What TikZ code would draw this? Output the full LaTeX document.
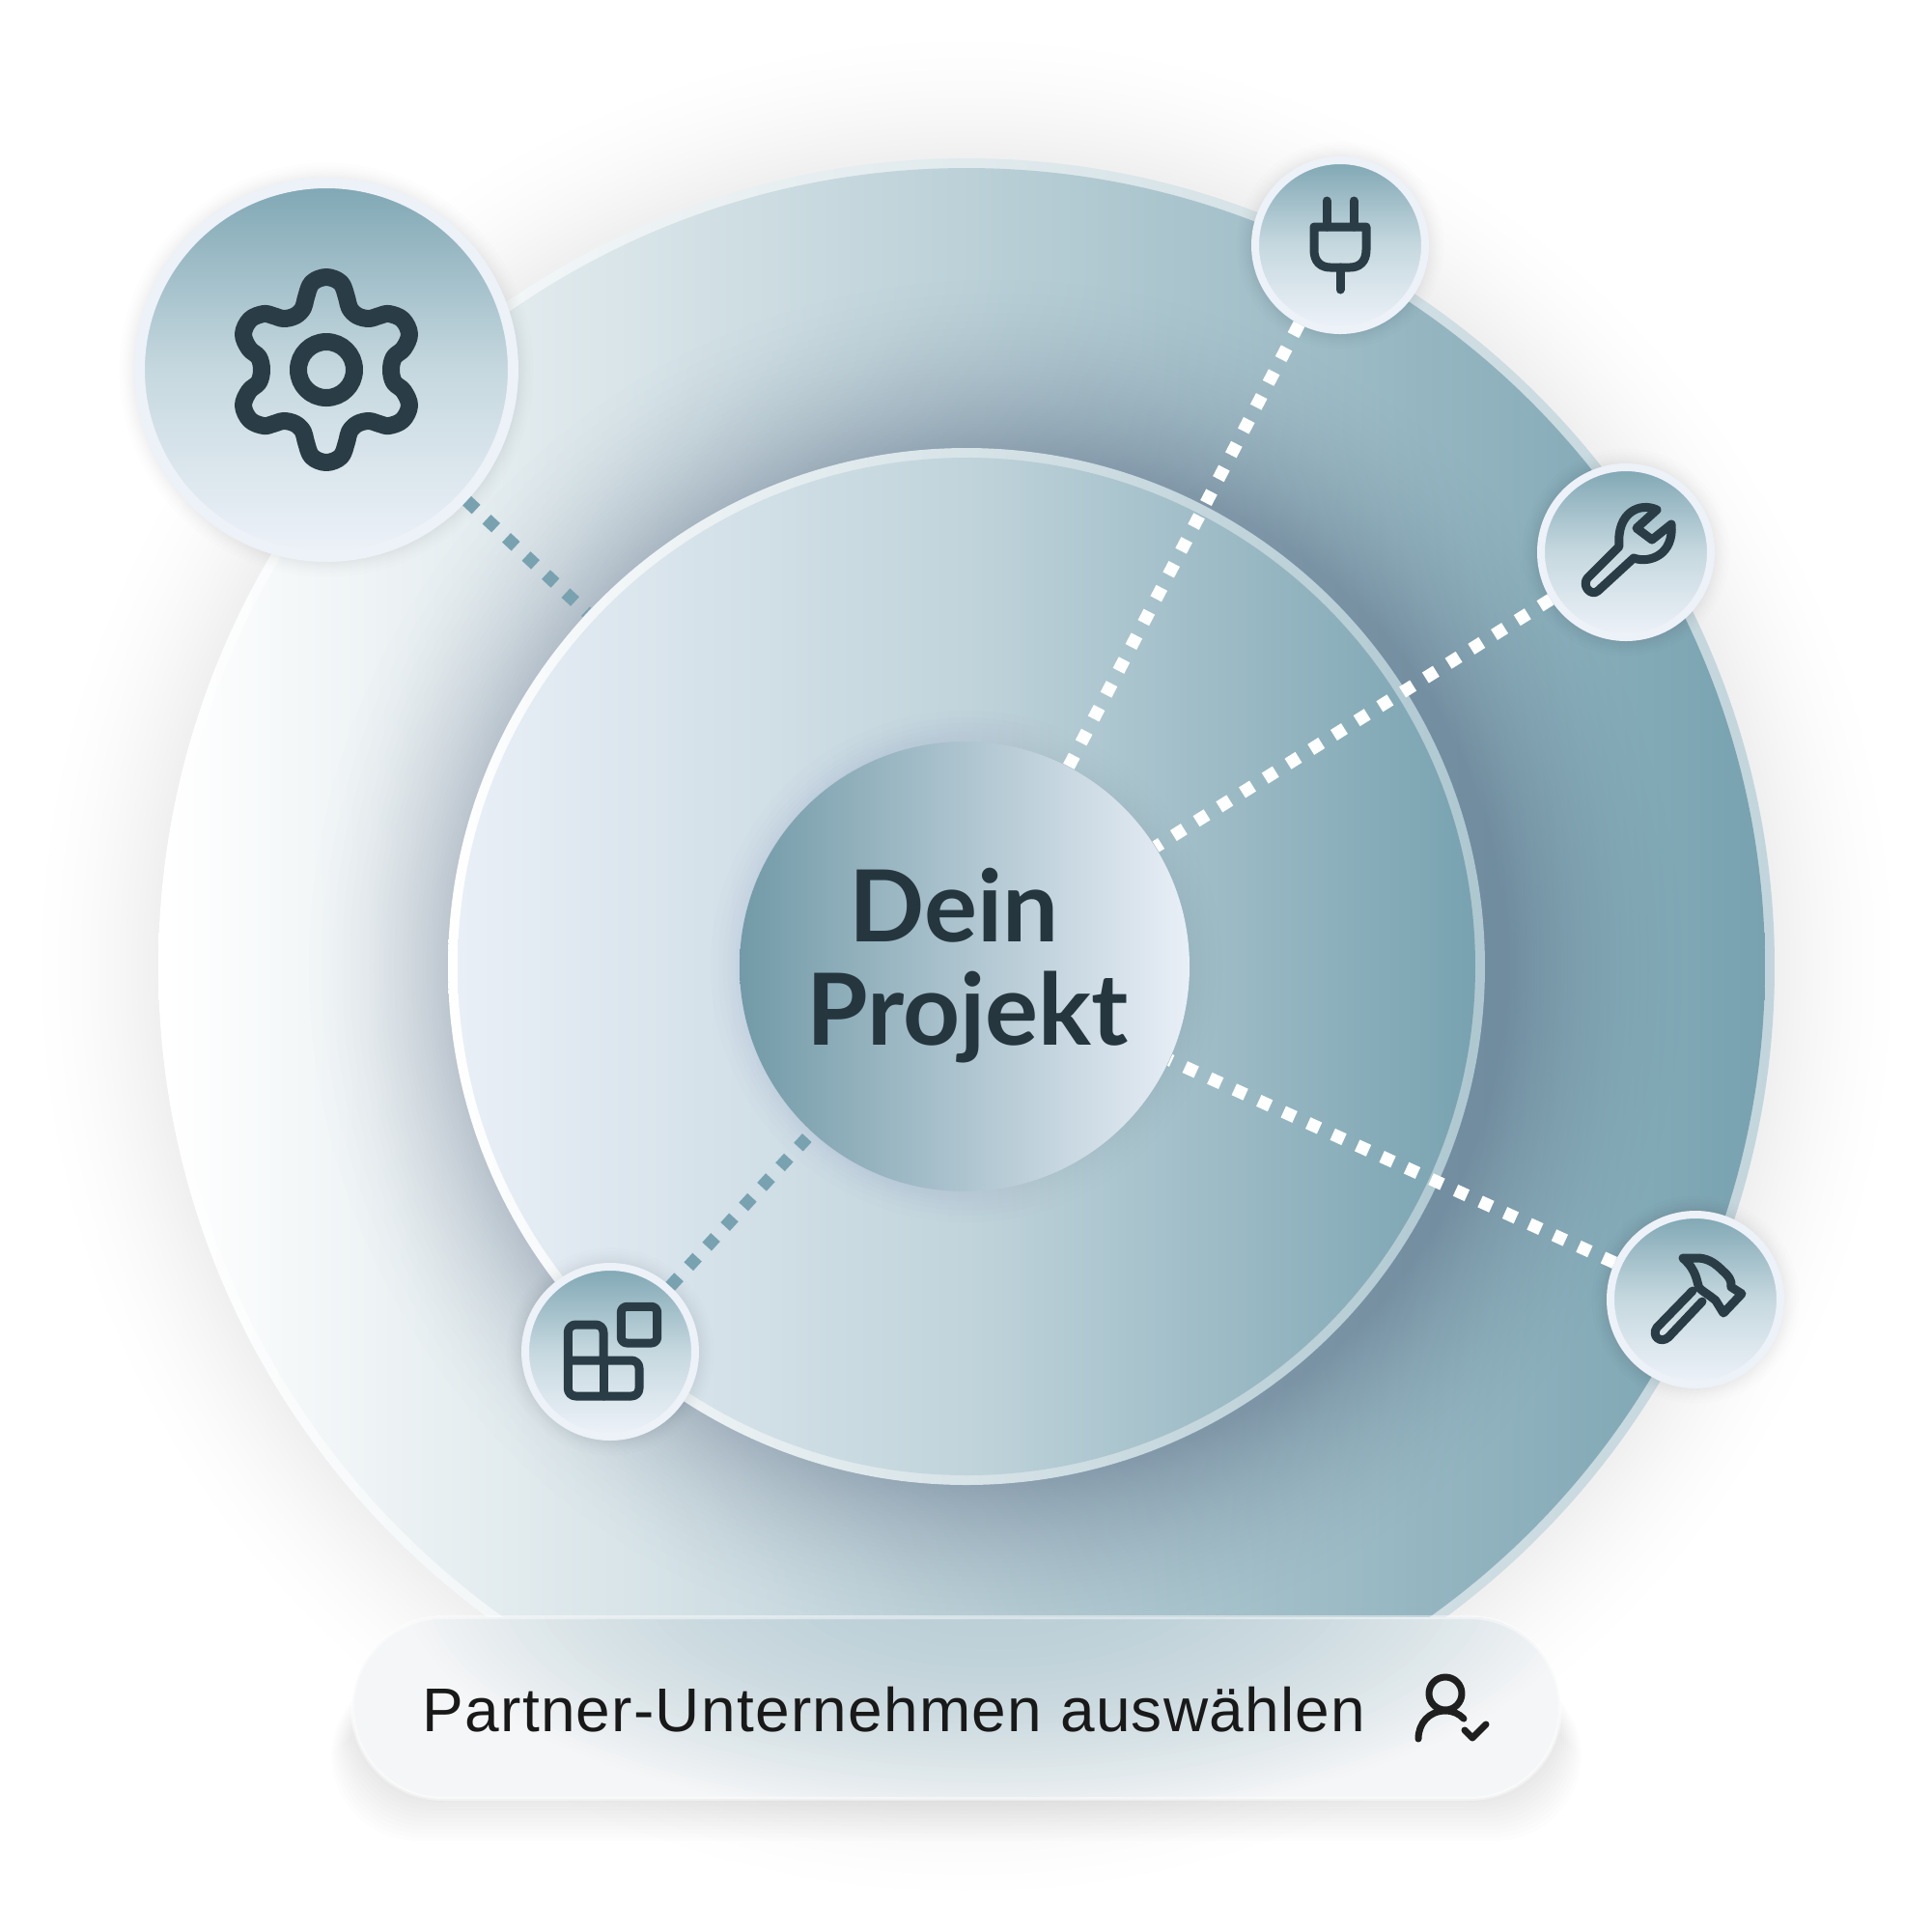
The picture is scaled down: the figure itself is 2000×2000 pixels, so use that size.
\documentclass[tikz,border=0pt]{standalone}
\usepackage{fontspec}
\setmainfont{Liberation Sans}
\newfontfamily\titlefont{Lato}

\definecolor{ink}{HTML}{2A3C45}
\definecolor{titleink}{HTML}{26363F}
\definecolor{deep}{HTML}{78A2B0}
\definecolor{pale}{HTML}{E9EFF7}
\definecolor{midtone}{HTML}{C1D4DB}
\definecolor{hubtop}{HTML}{7FA7B4}
\definecolor{hubmid}{HTML}{C6D8DF}
\definecolor{hubbot}{HTML}{EEF2F9}
\definecolor{hubrim}{HTML}{EDF1F8}
\definecolor{dusk}{HTML}{3C4C6A}
\definecolor{pillbase}{HTML}{F5F6F7}

\tikzset{
  disc/.style={circle,inner sep=0pt,shading=axis,minimum size=#1},
  hub/.style={circle,inner sep=0pt,minimum size=17.6mm,line width=.8mm,draw=hubrim,
    top color=hubtop,bottom color=hubbot,middle color=hubmid},
  linkwhite/.style={draw=white,line width=1.3mm,dash pattern=on 1.3mm off 1.5mm},
  linkteal/.style={linkwhite,draw=deep},
  icon/.style={draw=ink,line width=.9mm,line cap=round,line join=round},
  gearicon/.pic={
    \draw[icon,line width=1.8mm] plot[smooth cycle,tension=.6] coordinates {
      (0,-96) (15,-90) (21,-75) (24,-64) (32,-56) (44,-53) (55,-56) (65,-58) (79,-52) (86,-37) (80,-22) (70,-13) (67,0)
      (70,13) (80,22) (86,37) (79,52) (65,58) (55,56) (44,53) (32,56) (24,64) (21,75) (15,90) (0,96)
      (-15,90) (-21,75) (-24,64) (-32,56) (-44,53) (-55,56) (-65,58) (-79,52) (-86,37) (-80,22) (-70,13) (-67,0)
      (-70,-13) (-80,-22) (-86,-37) (-79,-52) (-65,-58) (-55,-56) (-44,-53) (-32,-56) (-24,-64) (-21,-75) (-15,-90)};
    \draw[icon,line width=1.8mm] (0,0) circle [radius=29];
  },
  plugicon/.pic={
    \draw[icon] (-27,-19) -- (27,-19) -- (27,5) .. controls (27,17) and (20,23) .. (10,23) -- (-10,23) .. controls (-20,23) and (-27,17) .. (-27,5) -- cycle;
    \draw[icon] (-14,-19) -- (-14,-46);
    \draw[icon] (14,-19) -- (14,-46);
    \draw[icon] (0,23) -- (0,46);
  },
  wrenchicon/.pic={
    \draw[icon] (32,-44) .. controls (15,-52) and (-10,-42) .. (-7,-6) -- (-40,27) .. controls (-46,35) and (-36,46) .. (-29,40) -- (8,6) .. controls (25,12) and (50,2) .. (47,-29) -- (27,-13) -- (11,-25) -- cycle;
  },
  hammericon/.pic={
    \draw[icon] (-3,-9) -- (-40,29) .. controls (-46,38) and (-36,46) .. (-28,39) -- (7,2);
    \draw[icon] (-13,-43) -- (4,-43) .. controls (15,-42) and (22,-36) .. (28,-30) .. controls (34,-25) and (38,-20) .. (37,-13) -- (48,-6) -- (29,14) -- (21,1) .. controls (14,-5) and (8,-8) .. (4,-12) .. controls (1,-18) and (2,-30) .. (-13,-43);
  },
  blocksicon/.pic={
    \draw[icon,rounded corners=.6mm] (11.3,-46.7) rectangle (48.7,-9);
    \draw[icon,rounded corners=.8mm] (-7,9) -- (-7,-28) -- (-43.7,-28) -- (-43.7,46) -- (30,46) -- (30,9) -- (-43.7,9);
    \draw[icon] (-7,9) -- (-7,46);
  },
}

\begin{document}
\begin{tikzpicture}[x=0.1mm,y=-0.1mm]
    \useasboundingbox (0,0) rectangle (2000,2000);
    \fill[white] (0,0) rectangle (2000,2000);
    % Soft shadow of the big disc
    \foreach \k in {1,...,16} {
        \pgfmathsetmacro{\shadelevel}{\k*0.4}
        \fill[black!\shadelevel!white] (1001,1001) circle [radius={837+160*(1-sqrt(\k/16))}];
    }
    % Big disc, cut where the pill begins
    \begin{scope}
        \clip (0,0) rectangle (2000,1675);
        \node[disc=167.4mm,left color=white,right color=deep!45!white] (ringedge) at (1001,1001) {};
        \node[disc=165.4mm,left color=white,right color=deep] (ringout) at (1001,1001) {};
        % Shadow of the middle disc, each step tinted from the gradient below it
        \foreach \k in {1,...,40} {
            \pgfmathsetmacro{\stepr}{530+215*(1-sqrt(\k/40))}
            \pgfmathsetmacro{\stepl}{(1031-\stepr-174)/16.54}
            \pgfmathsetmacro{\stepm}{(1031+\stepr-174)/16.54}
            \pgfmathsetmacro{\stepa}{\k*0.925}
            \colorlet{stepleft}{deep!\stepl!white}
            \colorlet{stepright}{deep!\stepm!white}
            \shade[left color=dusk!\stepa!stepleft,right color=dusk!\stepa!stepright] (1031,1001) circle [radius=\stepr];
        }
    \end{scope}
    % Middle disc
    \node[disc=107.4mm,left color=white,right color=deep!60!white] (ringmidedge) at (1001,1001) {};
    \node[disc=105.4mm,left color=pale,right color=deep,middle color=midtone] (ringmid) at (1001,1001) {};
    % Core with its shadow
    \foreach \k in {1,...,8}
        \fill[dusk,opacity=.007] (1001,1001) circle [radius={233+50*(1-sqrt(\k/8))}];
    \node[disc=46.6mm,left color=deep!95!black,right color=pale] (core) at (999,1001) {};
    \node[font=\titlefont\bfseries\fontsize{29.3}{30.2}\selectfont,text=titleink,align=center,inner sep=0pt] (title) at (1002,1000) {Dein\hspace*{2.8mm}\\Projekt};
    % Shadows of the satellites
    \foreach \p/\r in {{338,383}/199,{1388,254}/92,{1684,572}/92,{1756,1346}/92,{632,1400}/92}
        \foreach \k in {1,...,8}
            \fill[black,opacity=.009] (\p) circle [radius={\r+24*(1-sqrt(\k/8))}];
    % Satellites
    \node[hub,minimum size=38.7mm,line width=1.1mm] (gear) at (338,383) {};
    \node[hub] (plug) at (1388,254) {};
    \node[hub] (wrench) at (1684,572) {};
    \node[hub] (hammer) at (1756,1346) {};
    \node[hub] (blocks) at (632,1400) {};
    % Dotted links
    \draw[linkteal] (gear) -- (ringmidedge);
    \draw[linkteal] (blocks) -- (core);
    \draw[linkwhite] (plug) -- (core);
    \draw[linkwhite] (wrench) -- (core);
    \draw[linkwhite] (hammer) -- (core);
    % Icons
    \pic at (gear) {gearicon};
    \pic at (plug) {plugicon};
    \pic at (wrench) {wrenchicon};
    \pic at (hammer) {hammericon};
    \pic at (blocks) {blocksicon};
    % Pill shadow
    \foreach \g in {4,8,...,44}
        \fill[black,opacity=.006,rounded corners=9mm] (365-\g/2,1730) rectangle (1616+\g/2,1863+\g);
    % Pill
    \begin{scope}
        \clip[rounded corners=9.4mm] (365,1675) rectangle (1616,1863);
        \fill[pillbase] (365,1675) rectangle (1616,1863);
        \foreach \k in {1,...,40} {
            \pgfmathsetmacro{\blotch}{\k*1.15}
            \fill[deep!\blotch!pillbase] (1030,1640) ellipse [x radius={620*sqrt(1-\k/41)},y radius={250*sqrt(1-\k/41)}];
        }
    \end{scope}
    \draw[white,opacity=.45,line width=.4mm,rounded corners=9.4mm] (365,1675) rectangle (1616,1863);
    \node[font=\addfontfeatures{LetterSpace=2.0}\fontsize{18.2}{20}\selectfont,text=black!90,inner sep=0pt,anchor=base west] (pilltext) at (437,1793) {Partner-Unternehmen auswählen};
    % Person with tick
    \draw[icon,line width=.7mm,draw=black!88] (1497,1754) circle [radius=17];
    \draw[icon,line width=.7mm,draw=black!88] (1469,1801) .. controls (1469,1785) and (1480,1772) .. (1497,1772) .. controls (1505,1772) and (1511,1775) .. (1516,1780);
    \draw[icon,line width=.7mm,draw=black!88] (1517,1792) -- (1525,1800) -- (1539,1786);
\end{tikzpicture}
\end{document}
